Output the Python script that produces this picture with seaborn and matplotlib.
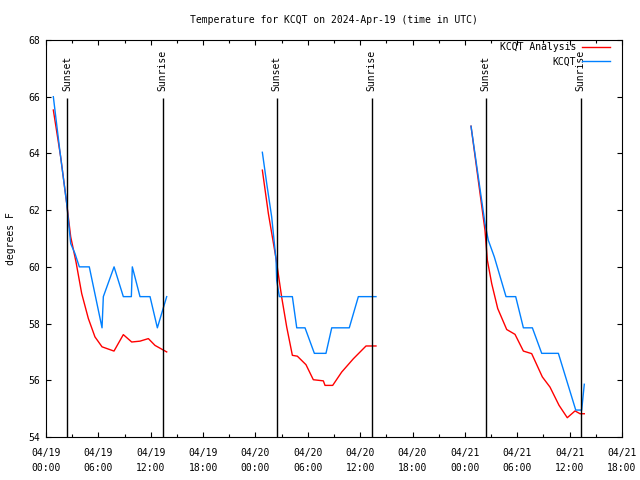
import pandas as pd
import matplotlib
matplotlib.use("Agg")
import matplotlib.pyplot as plt
import matplotlib.dates as mdates
import seaborn as sns

# hours after 2024-04-19 00:00 UTC, temps in F
ana_h_1 = [0.84, 1.68, 2.37, 2.83, 3.44, 4.09, 4.85, 5.61, 6.42, 7.79, 8.86, 9.82, 10.77, 11.73, 12.49, 13.83]
ana_t_1 = [65.53, 63.88, 62.24, 61.06, 60.17, 59.06, 58.18, 57.53, 57.18, 57.03, 57.61, 57.35, 57.38, 57.47, 57.23, 57.0]
obs_h_1 = [0.84, 1.6, 2.37, 2.6, 2.83, 3.32, 3.82, 4.96, 6.42, 6.57, 7.8, 8.86, 9.78, 9.89, 10.77, 11.92, 12.76, 13.83]
obs_t_1 = [66.0, 64.06, 62.24, 61.53, 60.82, 60.47, 60.0, 60.0, 57.85, 58.95, 60.0, 58.95, 58.95, 60.0, 58.95, 58.95, 57.85, 58.95]

ana_h_2 = [24.79, 25.48, 26.36, 27.0, 27.58, 28.23, 28.8, 29.79, 30.63, 31.78, 31.97, 32.85, 33.88, 35.22, 36.67, 37.81]
ana_t_2 = [63.41, 61.88, 60.29, 58.94, 57.88, 56.88, 56.85, 56.55, 56.02, 55.98, 55.82, 55.82, 56.29, 56.76, 57.21, 57.21]
obs_h_2 = [24.79, 25.29, 25.86, 26.36, 26.43, 26.74, 28.23, 28.73, 29.68, 30.75, 32.08, 32.74, 34.75, 35.79, 37.81]
obs_t_2 = [64.04, 62.94, 61.76, 60.24, 59.53, 58.95, 58.95, 57.85, 57.85, 56.95, 56.95, 57.85, 57.85, 58.95, 58.95]

ana_h_3 = [48.7, 50.3, 50.57, 51.07, 51.76, 52.79, 53.74, 54.7, 55.65, 56.87, 57.75, 58.78, 59.73, 60.62, 61.19, 61.68]
ana_t_3 = [64.96, 61.29, 60.24, 59.41, 58.53, 57.79, 57.62, 57.03, 56.94, 56.12, 55.76, 55.12, 54.68, 54.92, 54.82, 54.82]
obs_h_3 = [48.7, 50.3, 50.68, 51.37, 52.71, 53.82, 54.7, 55.73, 56.8, 58.71, 60.7, 61.38, 61.68]
obs_t_3 = [64.96, 61.53, 60.94, 60.35, 58.95, 58.95, 57.85, 57.85, 56.95, 56.95, 54.95, 54.95, 55.86]

sunsets = ["2024-04-19 02:26", "2024-04-20 02:25", "2024-04-21 02:24"]
sunrises = ["2024-04-19 13:22", "2024-04-20 13:20", "2024-04-21 13:17"]

start = pd.Timestamp("2024-04-19 00:00")
end = pd.Timestamp("2024-04-21 18:00")


def to_time(hours):
    return start + pd.to_timedelta(hours, unit="h")


plt.rcParams["font.family"] = ["DejaVu Sans Mono"]
plt.rcParams["font.size"] = 7

fig = plt.figure(figsize=(6.4, 4.8), dpi=100)
ax = fig.add_axes([46 / 640, 1 - 437 / 480, 576 / 640, 397 / 480])

red = "#ff0000"
blue = "#0080ff"
segments = [(ana_h_1, ana_t_1, obs_h_1, obs_t_1),
            (ana_h_2, ana_t_2, obs_h_2, obs_t_2),
            (ana_h_3, ana_t_3, obs_h_3, obs_t_3)]
for i, (ah, at, oh, ot) in enumerate(segments):
    sns.lineplot(x=to_time(ah), y=at, ax=ax, color=red, lw=1,
                 label="KCQT Analysis" if i == 0 else None, zorder=3)
    sns.lineplot(x=to_time(oh), y=ot, ax=ax, color=blue, lw=1,
                 label="KCQT" if i == 0 else None, zorder=4)

for label, times in [("Sunset", sunsets), ("Sunrise", sunrises)]:
    for t in pd.to_datetime(times):
        ax.vlines(t, 54, 65.95, color="black", lw=1, zorder=5)
        ax.text(t, 66.2, label, rotation=90, ha="center", va="bottom", fontsize=7)

ax.set_xlim(start, end)
ax.set_ylim(54, 68)
ax.set_yticks(range(54, 69, 2))
ax.xaxis.set_major_locator(mdates.HourLocator(byhour=[0, 6, 12, 18]))
ax.xaxis.set_minor_locator(mdates.HourLocator(byhour=[3, 9, 15, 21]))
ax.xaxis.set_major_formatter(mdates.DateFormatter("%m/%d\n%H:%M"))
ax.tick_params(which="both", direction="in", top=True, right=True, width=0.8, labelsize=7)
ax.tick_params(which="major", length=3.5)
ax.tick_params(axis="x", which="major", pad=8)
ax.tick_params(axis="y", which="major", pad=4)
ax.tick_params(which="minor", length=2)
plt.setp(ax.get_xticklabels(), linespacing=1.6)
for s in ax.spines.values():
    s.set_linewidth(0.8)
ax.set_xlabel("")
ax.set_ylabel("degrees F", fontsize=7, labelpad=9)
ax.set_title("Temperature for KCQT on 2024-Apr-19 (time in UTC)", fontsize=7, pad=12)

ax.legend(loc="upper right", frameon=False, markerfirst=False, fontsize=7,
          handlelength=2.9, borderpad=0, borderaxespad=0,
          bbox_to_anchor=((610 - 46) / 576, 1 - 2 / 397),
          labelspacing=0.45, handletextpad=0.6)

fig.savefig("out.png", dpi=100)
